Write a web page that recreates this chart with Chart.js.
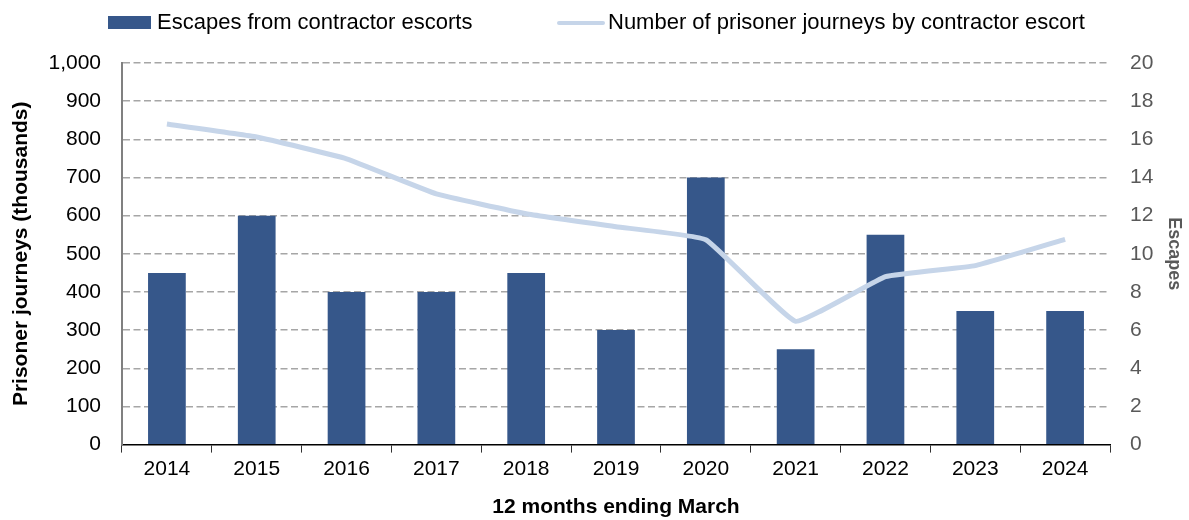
<!DOCTYPE html>
<html>
<head>
<meta charset="utf-8">
<script src="https://cdn.jsdelivr.net/npm/chart.js@4.4.1/dist/chart.umd.min.js"></script>
<style>
  html, body { margin: 0; padding: 0; background: #fff; }
  #wrap { width: 1189px; height: 520px; }
</style>
</head>
<body>
<div id="wrap"><canvas id="myChart"></canvas></div>
<script>
const years = ['2014', '2015', '2016', '2017', '2018', '2019', '2020', '2021', '2022', '2023', '2024']
const escapes = [9, 12, 8, 8, 9, 6, 14, 5, 11, 7, 7]
const journeys = [840, 806, 749, 657, 605, 571, 537, 323, 440, 469, 538]
const leftTicks = [0, 100, 200, 300, 400, 500, 600, 700, 800, 900, 1000]

const FONT = "'Liberation Sans', Arial, sans-serif"

// legend drawn by hand so the two keys can have different shapes
const topLegend = {
    id: 'topLegend',
    afterDraw(chart) {
        const ctx = chart.ctx
        const ds = chart.data.datasets
        const y = 23
        ctx.save()
        ctx.font = '22px ' + FONT
        ctx.textBaseline = 'middle'
        // bars
        ctx.fillStyle = ds[0].backgroundColor
        ctx.fillRect(108, y - 7, 43, 13)
        ctx.fillStyle = '#000'
        ctx.fillText(ds[0].label, 157, y)
        // line
        ctx.strokeStyle = ds[1].borderColor
        ctx.lineWidth = 4
        ctx.lineCap = 'round'
        ctx.beginPath()
        ctx.moveTo(559, y)
        ctx.lineTo(603, y)
        ctx.stroke()
        ctx.fillText(ds[1].label, 608, y)
        ctx.restore()
    }
}

const ctx = document.getElementById('myChart').getContext('2d')
const myChart = new Chart(ctx, {
    type: 'bar',
    data: {
        labels: years,
        datasets: [{
            type: 'bar',
            label: 'Escapes from contractor escorts',
            data: escapes,
            yAxisID: 'y1',
            backgroundColor: '#36578a',
            borderWidth: 0,
            categoryPercentage: 1,
            barPercentage: 0.42,
            order: 2
        }, {
            type: 'line',
            label: 'Number of prisoner journeys by contractor escort',
            data: journeys,
            yAxisID: 'y',
            borderColor: '#c6d5e9',
            borderWidth: 5,
            pointRadius: 0,
            tension: 0.1,
            order: 1
        }]
    },
    options: {
        responsive: true,
        maintainAspectRatio: false,
        animation: false,
        layout: { padding: { top: 63, left: 0, right: 0, bottom: 0 } },
        plugins: {
            legend: { display: false },
            tooltip: { enabled: false }
        },
        scales: {
            x: {
                offset: true,
                grid: {
                    offset: true,
                    drawOnChartArea: false,
                    drawTicks: true,
                    tickLength: 8,
                    color: '#333'
                },
                border: { color: '#000', width: 1.5 },
                ticks: { color: '#000', font: { family: FONT, size: 21 }, padding: 4 },
                title: {
                    display: true,
                    text: '12 months ending March',
                    color: '#000',
                    font: { family: FONT, size: 21, weight: 'bold' },
                    padding: { top: 9, bottom: 0 }
                }
            },
            y: {
                position: 'left',
                min: 0,
                max: 1000,
                afterBuildTicks: axis => { axis.ticks = leftTicks.map(v => ({ value: v })) },
                afterFit: axis => { axis.width = 122 },
                grid: {
                    drawTicks: false,
                    color: ctx => ctx.tick.value === 0 ? 'rgba(0,0,0,0)' : '#a6a6a6',
                    lineWidth: 1.5
                },
                border: { color: '#808080', width: 2, dash: [7, 3.5] },
                ticks: {
                    color: '#000',
                    font: { family: FONT, size: 21 },
                    padding: 21,
                    callback: v => v.toLocaleString('en-GB')
                },
                title: {
                    display: true,
                    text: 'Prisoner journeys (thousands)',
                    color: '#000',
                    font: { family: FONT, size: 21, weight: 'bold' },
                    padding: { top: 9, bottom: 0 }
                }
            },
            y1: {
                position: 'right',
                min: 0,
                max: 20,
                afterFit: axis => { axis.width = 79 },
                ticks: {
                    stepSize: 2,
                    color: '#595959',
                    font: { family: FONT, size: 21 },
                    padding: 20
                },
                grid: { drawOnChartArea: false, drawTicks: false },
                border: { display: false },
                title: {
                    display: true,
                    text: 'Escapes',
                    color: '#595959',
                    font: { family: FONT, size: 18, weight: 'bold' },
                    padding: { top: 4, bottom: 0 }
                }
            }
        }
    },
    plugins: [topLegend]
})
</script>
</body>
</html>
